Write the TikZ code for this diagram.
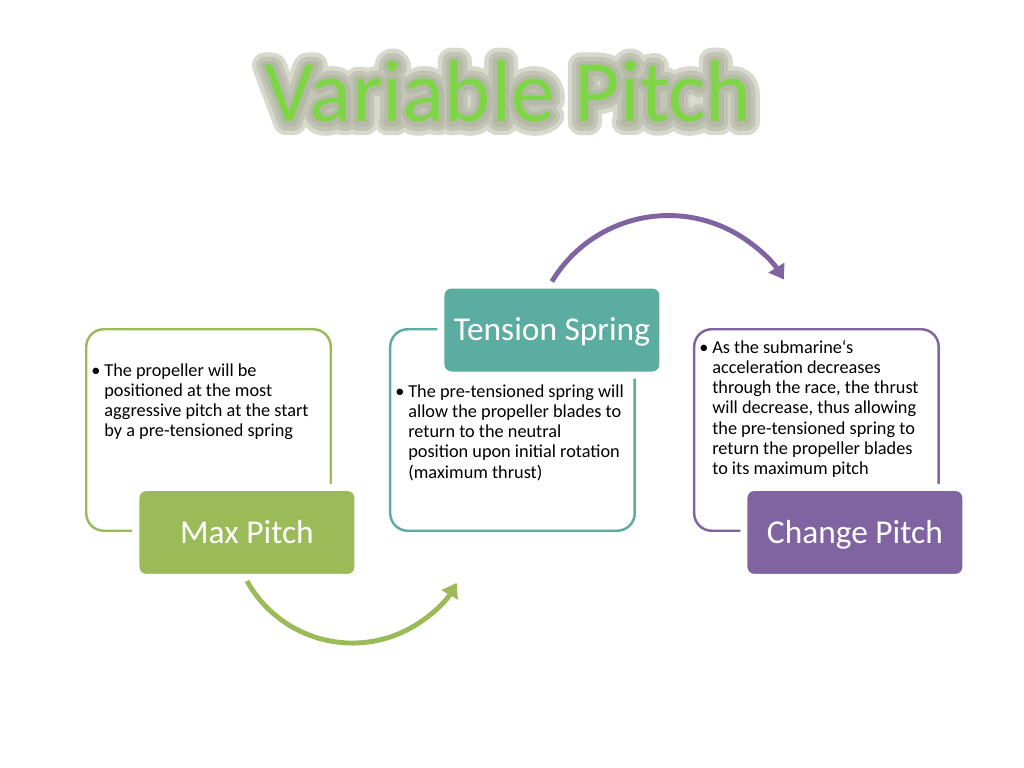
\documentclass[tikz,border=0pt]{standalone}
\usepackage{fontspec}
\setmainfont{Carlito}
\usepackage{tikz}
\usetikzlibrary{positioning, calc, arrows.meta}
\usepackage{xcolor}

\definecolor{pitchgreen}{RGB}{155,187,89}
\definecolor{springteal}{RGB}{91,173,162}
\definecolor{changepurple}{RGB}{128,100,162}
\definecolor{titlegreen}{RGB}{126,214,70}
\definecolor{glowlight}{RGB}{214,217,204}
\definecolor{glowmid}{RGB}{194,197,181}
\definecolor{glowdark}{RGB}{182,185,167}

% stroked text for the title halo
\newcommand{\halotext}[2]{\special{pdf:literal direct 2 Tr #1 w 1 j 1 J}#2\special{pdf:literal direct 0 Tr}}

\begin{document}
\begin{tikzpicture}[
  panel/.style={rectangle, rounded corners=0.35cm, minimum width=4.89cm, minimum height=4.03cm, draw, line width=1.4pt},
  head/.style={rectangle, rounded corners=0.2cm, minimum width=4.44cm, minimum height=1.80cm, draw=white, line width=4pt, text=white, text height=13.3pt, text depth=1.1pt, font=\fontsize{19}{23}\selectfont},
  bullet_text/.style={anchor=north west, inner sep=0pt, font=\fontsize{10.4}{11.55}\selectfont},
  arc_arrow/.style={line width=2.8pt, -{Triangle[length=0.28cm, width=0.36cm]}},
  halo/.style={anchor=base, font=\fontsize{50}{60}\selectfont}
]
    \useasboundingbox (0,0) rectangle (20.48,15.36);

    % Title
    \coordinate (tpos) at (10.17,12.92);
    \node[halo, text=glowlight] (g1) at (tpos) {\halotext{15}{Variable Pitch}};
    \node[halo, text=glowmid] (g2) at (tpos) {\halotext{10}{Variable Pitch}};
    \node[halo, text=glowdark] (g3) at (tpos) {\halotext{5}{Variable Pitch}};
    \node[halo, text=titlegreen] (title) at (tpos) {Variable Pitch};

    % Panels
    \node[panel, draw=pitchgreen] (p1) at (4.17,6.76) {};
    \node[panel, draw=springteal, right=1.14cm of p1] (p2) {};
    \node[panel, draw=changepurple, right=1.14cm of p2] (p3) {};

    % Headings
    \node[head, fill=pitchgreen, anchor=south east] (h1) at ($(p1.south east)+(0.59,-0.98)$) {Max Pitch};
    \node[head, fill=springteal, anchor=north east] (h2) at ($(p2.north east)+(0.61,0.93)$) {Tension Spring};
    \node[head, fill=changepurple, anchor=south east] (h3) at ($(p3.south east)+(0.59,-0.98)$) {Change Pitch};

    % Bullets
    \node[bullet_text] (b1) at ($(p1.north west)+(0.12,-0.67)$) {\begin{tabular}{@{}p{0.26cm}@{}l@{}}
      \textbullet & The propeller will be\\ & positioned at the most\\ & aggressive pitch at the start\\ & by a pre-tensioned spring
    \end{tabular}};
    \node[bullet_text] (b2) at ($(p2.north west)+(0.12,-1.09)$) {\begin{tabular}{@{}p{0.26cm}@{}l@{}}
      \textbullet & The pre-tensioned spring will\\ & allow the propeller blades to\\ & return to the neutral\\ & position upon initial rotation\\ & (maximum thrust)
    \end{tabular}};
    \node[bullet_text] (b3) at ($(p3.north west)+(0.12,-0.21)$) {\begin{tabular}{@{}p{0.26cm}@{}l@{}}
      \textbullet & As the submarine‘s\\ & acceleration decreases\\ & through the race, the thrust\\ & will decrease, thus allowing\\ & the pre-tensioned spring to\\ & return the propeller blades\\ & to its maximum pitch
    \end{tabular}};

    % Arcs
    \draw[arc_arrow, changepurple] (h2.north) arc (149:32:2.72);
    \draw[arc_arrow, pitchgreen] (h1.south) arc (209:330:2.41);

\end{tikzpicture}
\end{document}
